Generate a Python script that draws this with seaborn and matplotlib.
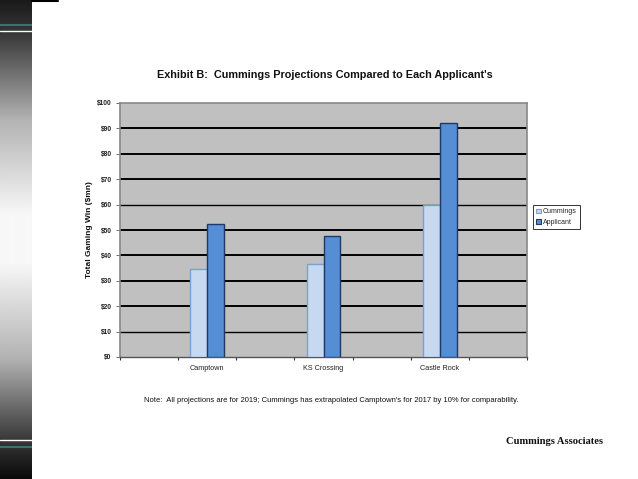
import numpy as np
import pandas as pd
import matplotlib
matplotlib.use("Agg")
import matplotlib.pyplot as plt
import seaborn as sns
from matplotlib.patches import Patch

categories = ["Camptown", "KS Crossing", "Castle Rock"]
series = ["Cummings", "Applicant"]
cummings = [34.5, 36.5, 60.0]
applicant = [52.5, 47.5, 92.0]
yticks = [0, 10, 20, 30, 40, 50, 60, 70, 80, 90, 100]
ytick_labels = ["$0", "$10", "$20", "$30", "$40", "$50", "$60", "$70", "$80", "$90", "$100"]

title = "Exhibit B:  Cummings Projections Compared to Each Applicant's"
ylabel = "Total Gaming Win ($mn)"
note = ("Note:  All projections are for 2019; Cummings has extrapolated "
        "Camptown's for 2017 by 10% for comparability.")
footer = "Cummings Associates"

df = pd.DataFrame({
    "Category": categories * 2,
    "Series": [series[0]] * 3 + [series[1]] * 3,
    "Value": cummings + applicant,
})

sns.set_theme(style="white")
plt.rcParams["font.family"] = ["Liberation Sans", "DejaVu Sans"]

fig = plt.figure(figsize=(6.38, 4.79), dpi=100)
fig.patch.set_facecolor("white")

# Left decorative strip
sax = fig.add_axes([0, 0, 32 / 638, 1])
ys = np.linspace(0, 1, 479)
kp_y = [0, 0.07, 0.25, 0.45, 0.55, 0.75, 0.92, 1.0]
kp_v = [0.10, 0.22, 0.70, 0.97, 0.97, 0.70, 0.22, 0.04]
grad = np.interp(ys, kp_y, kp_v)[:, None]
sax.imshow(grad, aspect="auto", cmap="gray", vmin=0, vmax=1, extent=[0, 1, 1, 0])
sax.set_xlim(0, 1)
sax.set_ylim(1, 0)
sax.axhline(25 / 479, color="#3f7f7f", lw=1.2)
sax.axhline(31 / 479, color="white", lw=1.0)
sax.axhline(440 / 479, color="white", lw=1.0)
sax.axhline(447 / 479, color="#3f7f7f", lw=1.2)
sax.axis("off")
fig.add_artist(plt.Line2D([32 / 638, 58 / 638], [1 - 0.5 / 479, 1 - 0.5 / 479],
                          color="black", lw=1.5, transform=fig.transFigure))

ax = fig.add_axes([120 / 638, 1 - 357 / 479, 407 / 638, 254 / 479])
sns.barplot(data=df, x="Category", y="Value", hue="Series", hue_order=series,
            order=categories, palette=["#c6d9f1", "#558ed5"], width=0.29,
            gap=0, saturation=1, ax=ax, legend=False, zorder=3)
edges = ["#7aa0d4", "#1f3864"]
for cont, ec in zip(ax.containers, edges):
    for p in cont:
        p.set_edgecolor(ec)
        p.set_linewidth(1.0)

ax.set_facecolor("#c0c0c0")
ax.set_xlim(-0.75, 2.75)
ax.set_ylim(0, 100)
ax.set_yticks(yticks)
ax.set_yticklabels(ytick_labels, fontsize=4.8, fontweight="bold", color="#222222")
ax.set_xticks(np.arange(-0.75, 2.76, 0.5))
ax.set_xticklabels([])
ax.tick_params(axis="x", length=2, width=0.8, color="#333333", direction="out", bottom=True)
ax.tick_params(axis="y", length=3, width=0.6, color="#555555", direction="out", left=True, pad=3)
for i, c in enumerate(categories):
    ax.text(i, -3.2, c, ha="center", va="top", fontsize=5.2, color="#222222")
ax.set_xlabel("")
ax.set_ylabel(ylabel, fontsize=6, fontweight="bold", labelpad=3, color="#111111")
ax.set_axisbelow(True)
for y in yticks[1:-1]:
    lw = 1.0 if y in (10, 60) else 1.4
    ax.axhline(y, color="black", lw=lw, zorder=1)
for side in ["left", "right", "top"]:
    ax.spines[side].set_color("#888888")
    ax.spines[side].set_linewidth(1.2)
ax.spines["bottom"].set_color("#555555")
ax.spines["bottom"].set_linewidth(1.0)

handles = [Patch(facecolor="#c6d9f1", edgecolor="#7aa0d4", lw=0.8),
           Patch(facecolor="#558ed5", edgecolor="#1f3864", lw=0.8)]
leg = fig.legend(handles, series, loc="upper left",
                 bbox_to_anchor=(533 / 638, 1 - 205 / 479), fontsize=5,
                 frameon=True, fancybox=False, handlelength=0.7, handleheight=0.7,
                 handletextpad=0.2, borderpad=0.5, labelspacing=0.5,
                 borderaxespad=0)
leg.get_frame().set_edgecolor("black")
leg.get_frame().set_linewidth(0.7)

fig.text(325 / 638, 1 - 75 / 479, title, ha="center", va="center",
         fontsize=7.8, fontweight="bold", color="#111111")
fig.text(331 / 638, 1 - 400 / 479, note, ha="center", va="center",
         fontsize=5.5, color="#111111")
fig.text(555 / 638, 1 - 441 / 479, footer, ha="center", va="center",
         fontsize=7.6, fontweight="bold", color="#111111",
         family=["Liberation Serif", "DejaVu Serif"])

fig.savefig("out.png", dpi=100, facecolor="white")
